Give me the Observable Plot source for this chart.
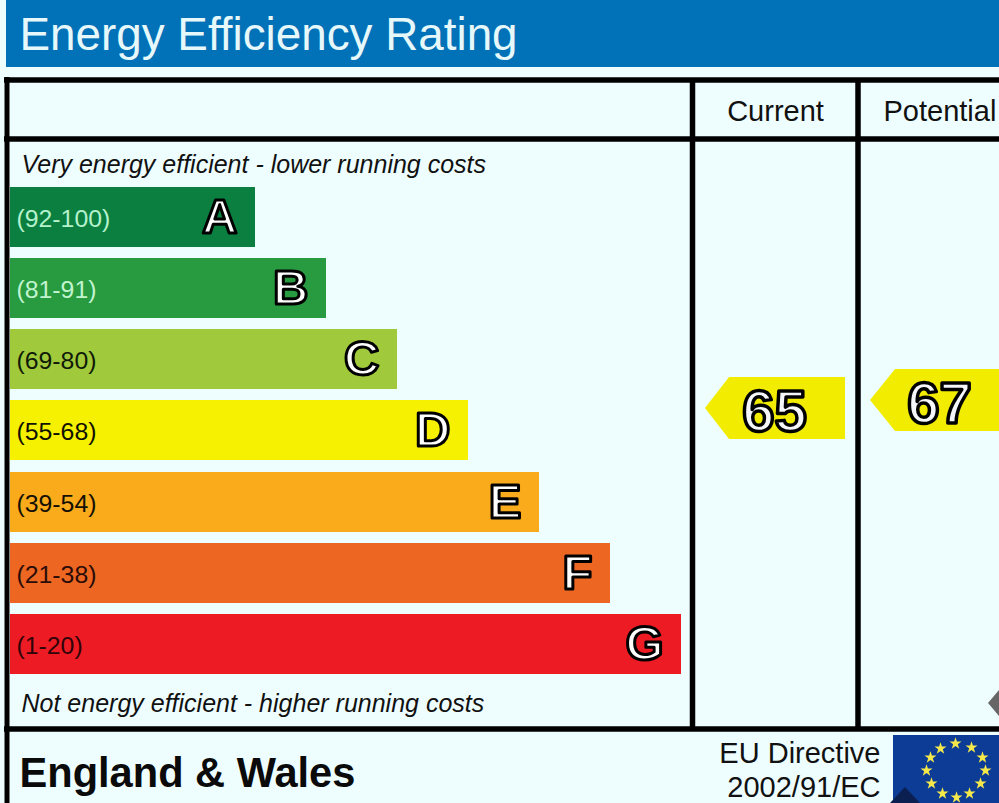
<!DOCTYPE html>
<html>
<head>
<meta charset="utf-8">
<style>html,body{margin:0;padding:0;background:#eefeff;overflow:hidden}svg{display:block}</style>
<script src="https://cdn.jsdelivr.net/npm/d3@7"></script>
<script src="https://cdn.jsdelivr.net/npm/@observablehq/plot@0.6"></script>
</head>
<body>
<div id="chart"></div>
<script>
const bandLetters = ["A","B","C","D","E","F","G"];
const bandRanges = ["(92-100)","(81-91)","(69-80)","(55-68)","(39-54)","(21-38)","(1-20)"];
const bandColors = ["#0a7f40","#289a40","#a0c93c","#f6f100","#f9ab1c","#ee6722","#ed1b24"];
const bandEnds = [255,326,397,468,539,610,681];
const bandTops = [187,258,329,400,472,543,614];
const bandBottoms = [247,318,389,460,532,603,674];
const rangeColors = ["#b4f2cc","#c2f4d0","#101a08","#111100","#151005","#2a0c08","#300408"];
const ratingLabels = ["65","67"];
const ratingTips = [705,870];
const ratingShoulders = [729,895];
const ratingEnds = [845,1005];
const ratingTop = [377,369];
const ratingMid = [408,400];
const ratingBottom = [439,431];
const ratingCentres = [774,939];
const starX = [955,971,982,985,980,969,956,942,931,926,930,940];
const starY = [743,747,757,770,783,793,797,793,783,770,757,748];

const bands = bandLetters.map((letter,i)=>({letter,range:bandRanges[i],color:bandColors[i],end:bandEnds[i],top:bandTops[i],bottom:bandBottoms[i],rangeColor:rangeColors[i],mid:(bandTops[i]+bandBottoms[i])/2}));
const arrow = i => [
  {x:ratingTips[i],y1:ratingMid[i],y2:ratingMid[i]},
  {x:ratingShoulders[i],y1:ratingTop[i],y2:ratingBottom[i]},
  {x:ratingEnds[i],y1:ratingTop[i],y2:ratingBottom[i]}
];
const sans = "Liberation Sans";

const chart = Plot.plot({
  width:999,height:803,margin:0,
  style:{background:"#eefeff",fontFamily:sans},
  x:{domain:[0,999],range:[0,999],axis:null},
  y:{domain:[0,803],range:[0,803],axis:null},
  marks:[
    Plot.rect([{x1:6,x2:999,y1:0,y2:67}],{x1:"x1",x2:"x2",y1:"y1",y2:"y2",fill:"#0171b8"}),
    Plot.text(["Energy Efficiency Rating"],{x:19,y:35,text:d=>d,textAnchor:"start",fontSize:45.8,fill:"#e6f8fa"}),
    Plot.ruleY([79.5,138.5,728.5],{x1:4,x2:999,stroke:"#000",strokeWidth:5.5}),
    Plot.ruleX([6.5],{y1:77,y2:803,stroke:"#000",strokeWidth:5}),
    Plot.ruleX([692,857.5],{y1:79,y2:729,stroke:"#000",strokeWidth:5.5}),
    Plot.text(["Current"],{x:775,y:111,text:d=>d,fontSize:29,fill:"#111"}),
    Plot.text(["Potential"],{x:883,y:111,text:d=>d,textAnchor:"start",fontSize:29,fill:"#111"}),
    Plot.text(["Very energy efficient - lower running costs"],{x:21,y:164,text:d=>d,textAnchor:"start",fontSize:25,fontStyle:"italic",fill:"#111"}),
    Plot.text(["Not energy efficient - higher running costs"],{x:21,y:703,text:d=>d,textAnchor:"start",fontSize:25,fontStyle:"italic",fill:"#111"}),
    Plot.rect(bands,{x1:10,x2:"end",y1:"top",y2:"bottom",fill:"color"}),
    Plot.text(bands,{x:16,y:d=>d.mid+2,text:"range",textAnchor:"start",fontSize:24.8,fill:"rangeColor"}),
    Plot.text(bands,{x:d=>d.end-18,y:"mid",text:"letter",textAnchor:"end",fontSize:49,fontWeight:"bold",fill:"#fff",stroke:"#000",strokeWidth:3,paintOrder:"fill"}),
    ...[0,1].map(i=>Plot.areaY(arrow(i),{x:"x",y1:"y1",y2:"y2",fill:"#f2ec00"})),
    Plot.text(ratingLabels,{x:(d,i)=>ratingCentres[i],y:(d,i)=>ratingMid[i]+4,text:d=>d,fontSize:58,fontWeight:"bold",fill:"#f4f6fa",stroke:"#000",strokeWidth:3.5,paintOrder:"fill"}),
    Plot.areaY([{x:988,y1:703,y2:703},{x:999,y1:690,y2:716}],{x:"x",y1:"y1",y2:"y2",fill:"#666"}),
    Plot.text(["England & Wales"],{x:19,y:773,text:d=>d,textAnchor:"start",fontSize:41.6,fontWeight:"bold",fill:"#0a0a0a"}),
    Plot.text(["EU Directive"],{x:880,y:753,text:d=>d,textAnchor:"end",fontSize:29,fill:"#111"}),
    Plot.text(["2002/91/EC"],{x:880,y:787,text:d=>d,textAnchor:"end",fontSize:29,fill:"#111"}),
    Plot.rect([{x1:893,x2:999,y1:735,y2:803}],{x1:"x1",x2:"x2",y1:"y1",y2:"y2",fill:"#0c3c96"}),
    Plot.areaY([{x:890,y1:803,y2:803},{x:905,y1:787,y2:803},{x:920,y1:803,y2:803}],{x:"x",y1:"y1",y2:"y2",fill:"#0b2050"}),
    Plot.dot(starX,{x:d=>d,y:(d,i)=>starY[i],symbol:"star",r:3.8,fill:"#f5e84a",stroke:"none"})
  ]
});
document.getElementById("chart").append(chart);
</script>
</body>
</html>
